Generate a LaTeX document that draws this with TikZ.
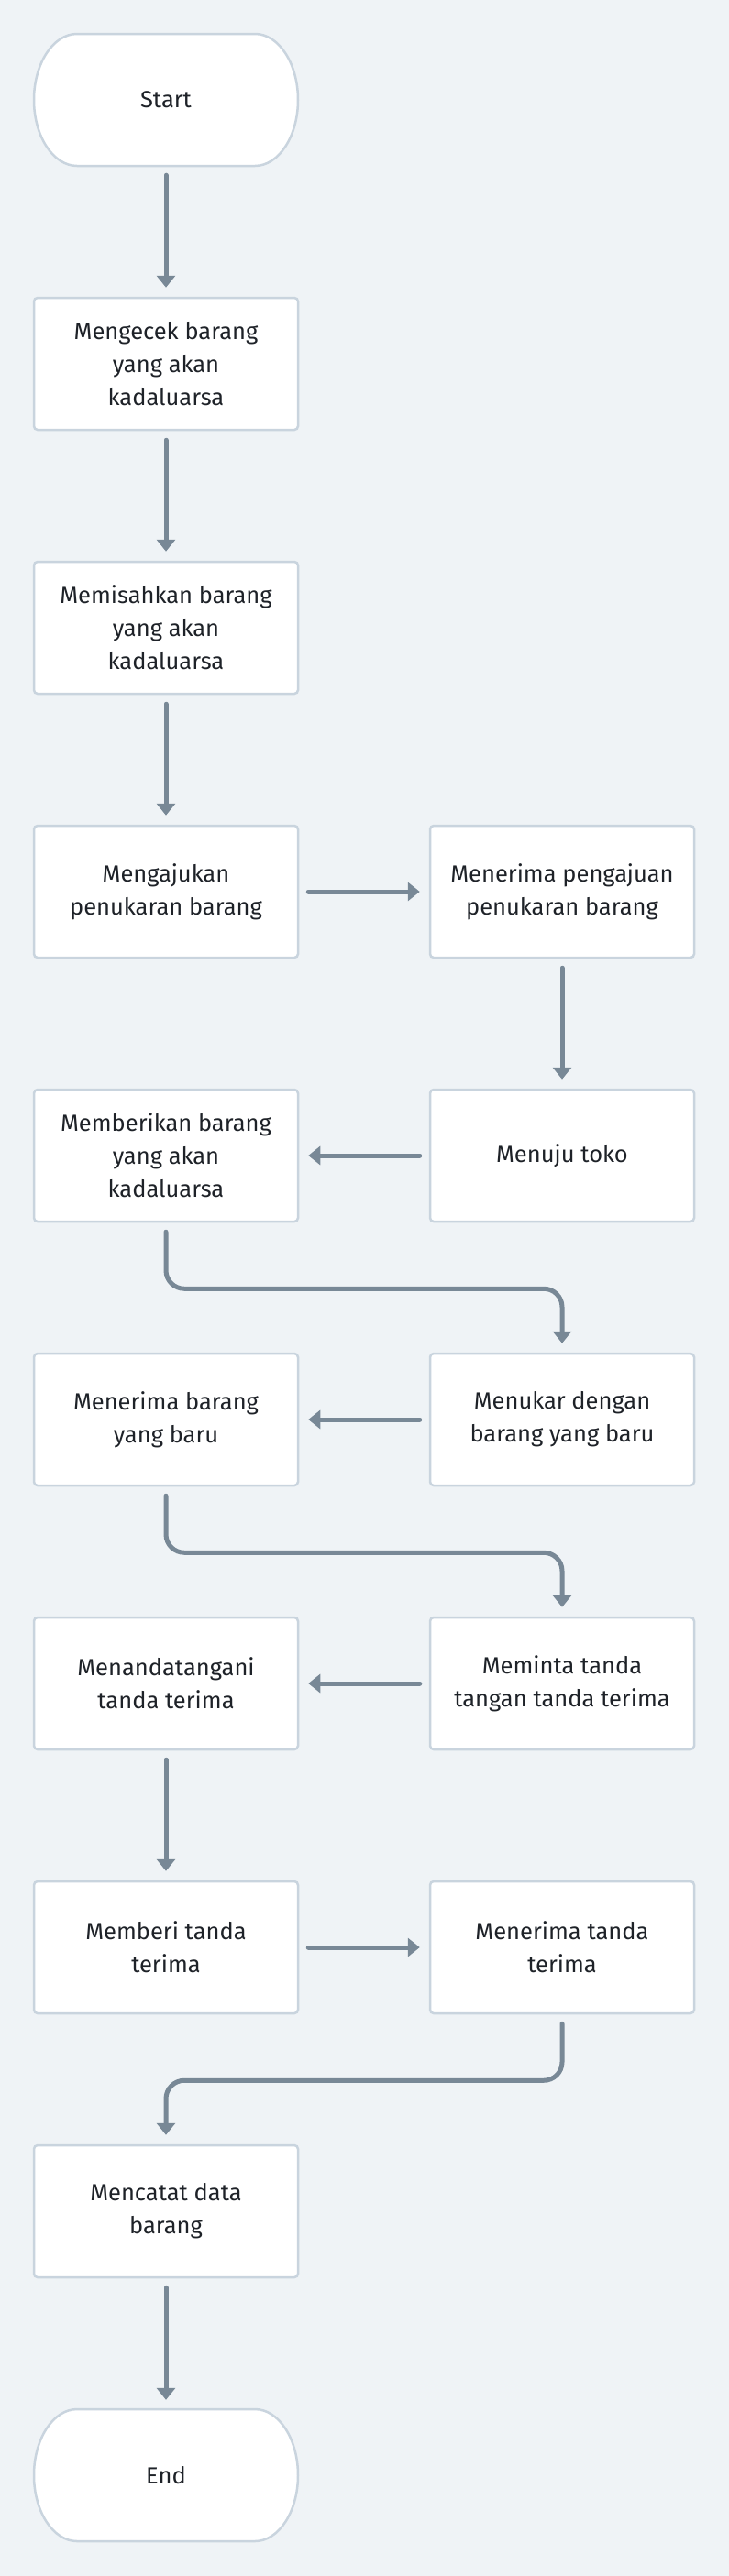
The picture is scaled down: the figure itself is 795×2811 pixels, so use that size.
\documentclass[tikz,border=0pt]{standalone}
\usepackage{fontspec}
\setmainfont{Fira Sans}
\usepackage{tikz}
\usetikzlibrary{calc,arrows.meta}

\definecolor{latar}{HTML}{EFF3F6}
\definecolor{garis}{HTML}{C9D4DE}
\definecolor{panah}{HTML}{788896}
\definecolor{teks}{HTML}{1E2228}

\tikzset{
  kotak/.style={draw=garis, line width=2.5pt, fill=white, rounded corners=4pt,
    minimum width=288pt, minimum height=144pt, align=center, text=teks,
    font=\fontsize{25.5}{36}\selectfont},
  ujung/.style={draw=garis, line width=2.5pt, fill=white},
  ujungteks/.style={minimum width=288pt, minimum height=144pt, text=teks,
    font=\fontsize{25.5}{36}\selectfont},
  alur/.style={draw=panah, line width=5pt, line cap=round,
    -{Triangle[width=20pt,length=13pt]}, shorten <=10pt, shorten >=10pt},
  belok/.style={alur, rounded corners=20pt}
}

\begin{document}
\begin{tikzpicture}[x=1pt,y=1pt]
    % Latar
    \fill[latar] (0,0) rectangle (795,-2811);
    \useasboundingbox (0,0) rectangle (795,-2811);

    % Start / End
    \draw[ujung] (84,-37) -- (278,-37) arc[start angle=90,end angle=-90,x radius=47,y radius=72]
        -- (84,-181) arc[start angle=270,end angle=90,x radius=47,y radius=72] -- cycle;
    \node[ujungteks] (start) at (181,-109) {Start};
    \draw[ujung] (84,-2629) -- (278,-2629) arc[start angle=90,end angle=-90,x radius=47,y radius=72]
        -- (84,-2773) arc[start angle=270,end angle=90,x radius=47,y radius=72] -- cycle;
    \node[ujungteks] (end) at (181,-2701) {End};

    % Kolom kiri
    \node[kotak] (cek) at (181,-397) {Mengecek barang\\yang akan\\kadaluarsa};
    \node[kotak] (pisah) at (181,-685) {Memisahkan barang\\yang akan\\kadaluarsa};
    \node[kotak] (aju) at (181,-973) {Mengajukan\\penukaran barang};
    \node[kotak] (beri) at (181,-1261) {Memberikan barang\\yang akan\\kadaluarsa};
    \node[kotak] (terimabrg) at (181,-1549) {Menerima barang\\yang baru};
    \node[kotak] (tanda) at (181,-1837) {Menandatangani\\tanda terima};
    \node[kotak] (beritanda) at (181,-2125) {Memberi tanda\\terima};
    \node[kotak] (catat) at (181,-2413) {Mencatat data\\barang};

    % Kolom kanan
    \node[kotak] (terimaaju) at (613,-973) {Menerima pengajuan\\penukaran barang};
    \node[kotak] (toko) at (613,-1261) {Menuju toko};
    \node[kotak] (tukar) at (613,-1549) {Menukar dengan\\barang yang baru};
    \node[kotak] (minta) at (613,-1837) {Meminta tanda\\tangan tanda terima};
    \node[kotak] (terimatanda) at (613,-2125) {Menerima tanda\\terima};

    % Alur
    \draw[alur] (start) -- (cek);
    \draw[alur] (cek) -- (pisah);
    \draw[alur] (pisah) -- (aju);
    \draw[alur] (aju) -- (terimaaju);
    \draw[alur] (terimaaju) -- (toko);
    \draw[alur] (toko) -- (beri);
    \draw[belok] (beri.south) -- ++(0,-72) -| (tukar.north);
    \draw[alur] (tukar) -- (terimabrg);
    \draw[belok] (terimabrg.south) -- ++(0,-72) -| (minta.north);
    \draw[alur] (minta) -- (tanda);
    \draw[alur] (tanda) -- (beritanda);
    \draw[alur] (beritanda) -- (terimatanda);
    \draw[belok] (terimatanda.south) -- ++(0,-72) -| (catat.north);
    \draw[alur] (catat) -- (end);
\end{tikzpicture}
\end{document}
